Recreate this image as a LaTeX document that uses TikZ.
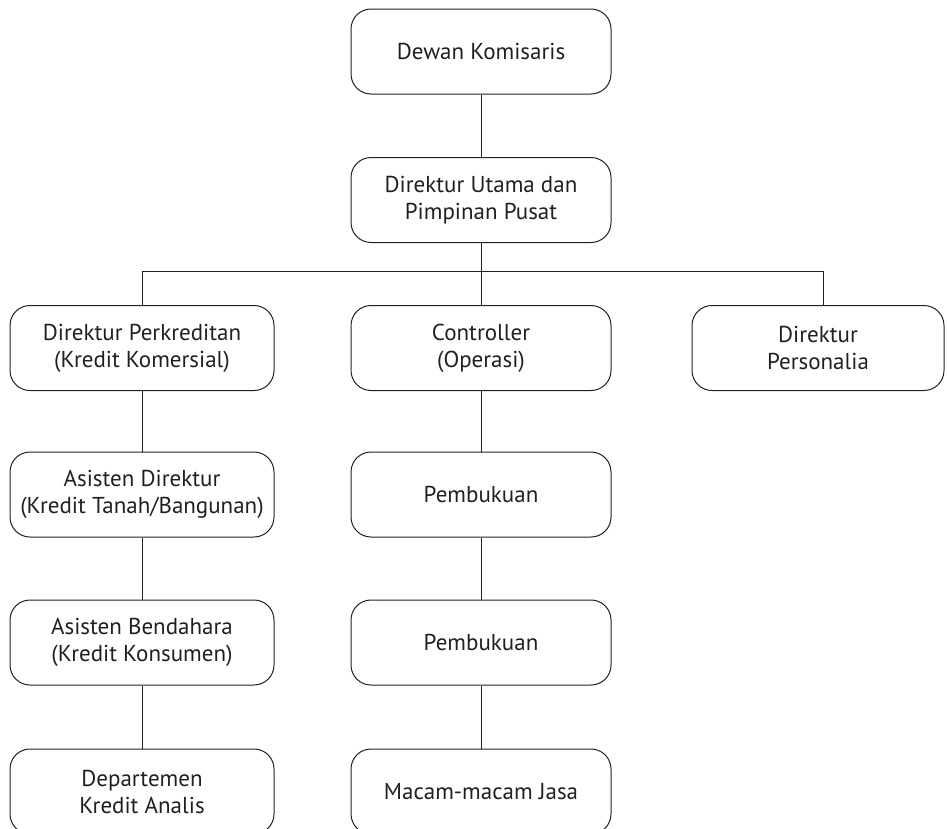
\documentclass[tikz,border=0pt]{standalone}
\usepackage{fontspec}
\setmainfont{PT Sans}
\definecolor{ink}{HTML}{231F20}
\begin{document}
\begin{tikzpicture}[x=1pt,y=-1pt,
  unit/.style={draw=ink, line width=1pt, rounded corners=20pt, align=center,
    text=ink, font=\fontsize{23}{27}\selectfont, minimum height=85pt,
    minimum width=260pt, inner sep=0pt},
  wide/.style={minimum width=264pt},
  link/.style={draw=ink, line width=1pt}]
\useasboundingbox (0,0) rectangle (947,828);
\clip (0,0) rectangle (947,828);
% top of the hierarchy
\node[unit] (dk) at (481,51.5) {Dewan Komisaris};
\node[unit] (du) at (481,200) {Direktur Utama dan\\Pimpinan Pusat};
% directors
\node[unit, wide] (dp) at (142,348) {Direktur Perkreditan\\(Kredit Komersial)};
\node[unit] (co) at (481,348) {Controller\\(Operasi)};
\node[unit, minimum width=252pt] (dpers) at (818,348) {Direktur\\Personalia};
% credit branch
\node[unit, wide] (ad) at (142,494.5) {Asisten Direktur\\(Kredit Tanah/Bangunan)};
\node[unit, wide] (ab) at (142,642.5) {Asisten Bendahara\\(Kredit Konsumen)};
\node[unit, wide] (dka) at (142,791.5) {Departemen\\Kredit Analis};
% operations branch
\node[unit] (pb1) at (481,494.5) {Pembukuan};
\node[unit] (pb2) at (481,642.5) {Pembukuan};
\node[unit] (mj) at (481,791.5) {Macam-macam Jasa};
% connectors
\coordinate (busL) at (142,271);
\coordinate (busR) at (823,271);
\draw[link] (dk) -- (du);
\draw[link] (du) -- (co);
\draw[link] (dp.north) -- (busL) -- (busR) -- (busR |- dpers.north);
\draw[link] (dp) -- (ad);
\draw[link] (ad) -- (ab);
\draw[link] (ab) -- (dka);
\draw[link] (co) -- (pb1);
\draw[link] (pb1) -- (pb2);
\draw[link] (pb2) -- (mj);
\end{tikzpicture}
\end{document}
